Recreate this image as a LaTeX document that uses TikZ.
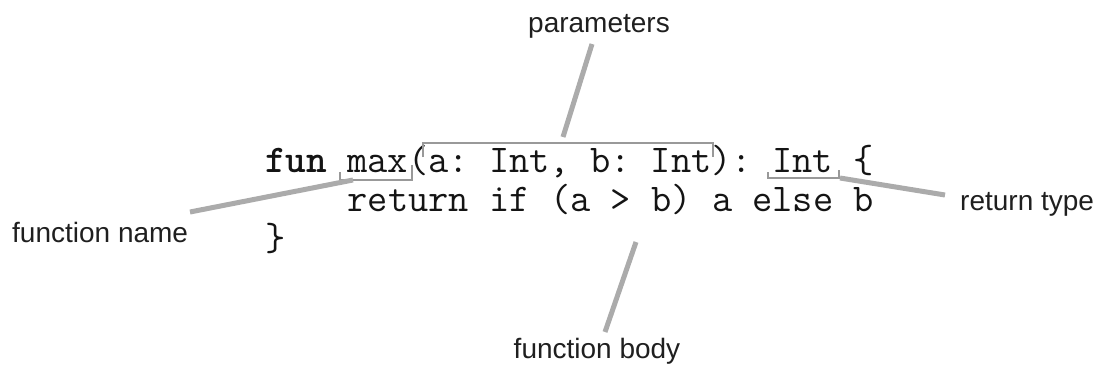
\documentclass[tikz,border=0pt]{standalone}
\usepackage{fontspec}
\setmainfont{Liberation Sans}
\begin{document}
\frenchspacing
\begin{tikzpicture}[x=1pt,y=-1pt,
  code/.style={font=\ttfamily\frenchspacing\fontsize{39.3}{39}\selectfont, inner sep=0pt, anchor=base west, text=black!92},
  lbl/.style={font=\fontsize{28}{32}\selectfont, inner sep=0pt, text=black!88},
  leader/.style={draw=black!33, line width=5pt},
  brk/.style={draw=black!40, line width=2pt}]
\useasboundingbox (0,0) rectangle (1097,370);
% code
\node[code] (l1) at (265,172) {\textbf{fun} max(a: Int, b: Int): Int \{};
\node[code] (l2) at (347.5,211) {return if (a > b) a else b};
\node[code] (l3) at (265,250) {\}};
% labels
\node[lbl, anchor=base] (param) at (599,32) {parameters};
\node[lbl, anchor=base west] (fname) at (12,242) {function name};
\node[lbl, anchor=base west] (rtype) at (960,210) {return type};
\node[lbl, anchor=base] (fbody) at (597,358) {function body};
% brackets
\draw[brk] (423,157) -- (423,143) -- (713,143) -- (713,157);
\draw[brk] (340,172) -- (340,180) -- (412,180) -- (412,165);
\draw[brk] (768,172) -- (768,178) -- (839,178) -- (839,170);
% leader end points
\coordinate (pA) at (563,137);
\coordinate (pB) at (592,44);
\coordinate (nA) at (353,180);
\coordinate (nB) at (190,212);
\coordinate (rA) at (840,178);
\coordinate (rB) at (945,195);
\coordinate (bA) at (636,242);
\coordinate (bB) at (605,332);
\draw[leader] (pA) -- (pB);
\draw[leader] (nA) -- (nB);
\draw[leader] (rA) -- (rB);
\draw[leader] (bA) -- (bB);
\end{tikzpicture}
\end{document}
